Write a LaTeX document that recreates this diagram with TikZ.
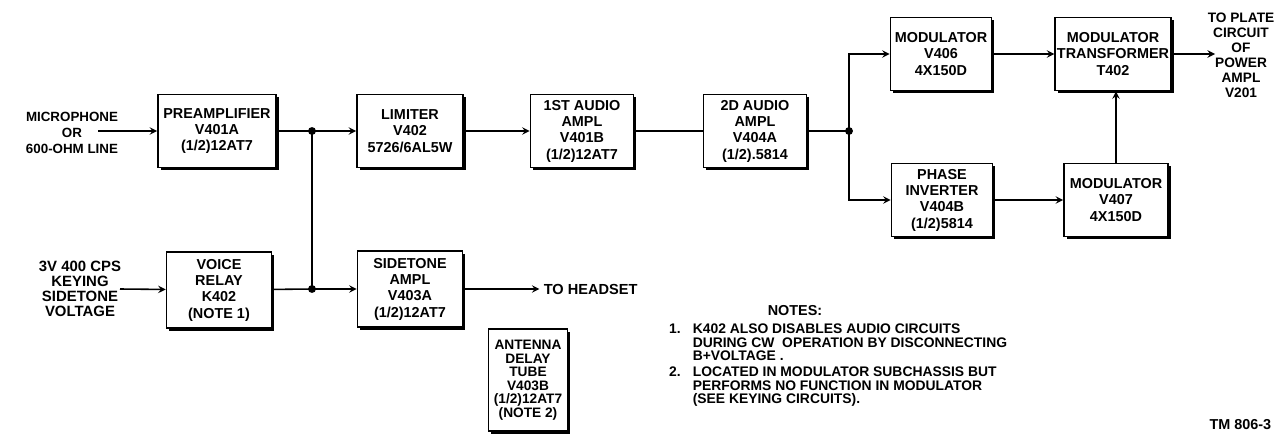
\documentclass[tikz,border=0pt]{standalone}
\usepackage{fontspec}
\setmainfont{Liberation Sans}
\usetikzlibrary{shadows}

\tikzset{
  blk/.style={draw, fill=white, inner sep=1pt, align=center,
    minimum width=2.06cm, minimum height=1.46cm,
    font=\bfseries\fontsize{8.2}{9.3}\selectfont,
    drop shadow={shadow xshift=1.6pt, shadow yshift=-1.6pt, opacity=1, fill=black}},
  lbl/.style={align=center, inner sep=0pt, font=\bfseries\fontsize{7.6}{9.3}\selectfont},
  notetxt/.style={align=left, inner sep=0pt, font=\bfseries\fontsize{7.9}{7.8}\selectfont},
  dot/.style={circle, fill=black, inner sep=0pt, minimum size=4.5pt}
}

\begin{document}
\begin{tikzpicture}[>=stealth, x=0.02cm, y=-0.02cm, line width=0.9pt]
      \useasboundingbox (0,0) rectangle (1276,436);

      % audio chain
      \node[blk, minimum width=2.36cm] (pre) at (217,131) {PREAMPLIFIER\\V401A\\(1/2)12AT7};
      \node[blk, minimum width=2.12cm] (lim) at (410,131) {LIMITER\\V402\\5726/6AL5W};
      \node[blk] (aud1) at (582,131) {1ST AUDIO\\AMPL\\V401B\\(1/2)12AT7};
      \node[blk] (aud2) at (755,131) {2D AUDIO\\AMPL\\V404A\\(1/2).5814};
      \node[blk, minimum width=2.02cm] (mod6) at (941,54) {MODULATOR\\V406\\4X150D};
      \node[blk, minimum width=2.22cm] (xfmr) at (1113,54) {MODULATOR\\TRANSFORMER\\T402};
      \node[blk, minimum width=2.02cm] (phase) at (942,200) {PHASE\\INVERTER\\V404B\\(1/2)5814};
      \node[blk, minimum width=2.08cm] (mod7) at (1116,200) {MODULATOR\\V407\\4X150D};

      % keying side
      \node[blk, minimum width=2.1cm, minimum height=1.52cm] (relay) at (219,290) {VOICE\\RELAY\\K402\\(NOTE 1)};
      \node[blk, minimum width=2.1cm, minimum height=1.52cm] (side) at (410,289) {SIDETONE\\AMPL\\V403A\\(1/2)12AT7};
      \node[blk, minimum width=1.58cm, minimum height=2.04cm, font=\bfseries\fontsize{7.8}{7.7}\selectfont] (ant) at (528,380) {ANTENNA\\DELAY\\TUBE\\V403B\\(1/2)12AT7\\(NOTE 2)};

      % junctions
      \node[dot] (j1) at (312,131) {};
      \node[dot] (j2) at (312,289) {};
      \node[dot] (j3) at (849,131) {};

      % inputs and outputs
      \node[lbl] (mic) at (72,133) {MICROPHONE\\OR\\600-OHM LINE};
      \coordinate (micout) at (98,131);
      \node[lbl, font=\bfseries\fontsize{8.5}{8.6}\selectfont] (key) at (80,289) {3V 400 CPS\\KEYING\\SIDETONE\\VOLTAGE};
      \coordinate (keyout) at (120,289);
      \node[lbl, anchor=west, font=\bfseries\fontsize{8.3}{9}\selectfont] (head) at (543,289) {TO HEADSET};
      \node[lbl, font=\bfseries\fontsize{7.8}{8.5}\selectfont] (plate) at (1241,55) {TO PLATE\\CIRCUIT\\OF\\POWER\\AMPL\\V201};
      \coordinate (platein) at (1215,54);

      % connectors
      \draw[->] (micout) -- (pre);
      \draw (pre) -- (j1.center);
      \draw[->] (j1.center) -- (lim);
      \draw (j1.center) -- (j2.center);
      \draw[->] (keyout) -- (relay);
      \draw (relay) -- (j2.center);
      \draw[->] (j2.center) -- (side);
      \draw[->] (side) -- ([xshift=-2pt]head.west);
      \draw[->] (lim) -- (aud1);
      \draw (aud1) -- (aud2);
      \draw (aud2) -- (j3.center);
      \draw[->] (j3.center) |- (mod6);
      \draw[->] (j3.center) |- (phase);
      \draw[->] (mod6) -- (xfmr);
      \draw[->] (phase) -- (mod7);
      \draw[->] (mod7.north) -- (mod7.north |- xfmr.south);
      \draw[->] (xfmr) -- (platein);

      % notes
      \node[lbl, font=\bfseries\fontsize{8.2}{9}\selectfont] (notes) at (795,311) {NOTES:};
      \node[notetxt, anchor=north west] (n1) at (692,323) {K402 ALSO DISABLES AUDIO CIRCUITS\\DURING CW\ \ OPERATION BY DISCONNECTING\\B+VOLTAGE .};
      \node[notetxt, anchor=north east] at ([xshift=-6pt]n1.north west) {1.};
      \node[notetxt, anchor=north west] (n2) at (692,366) {LOCATED IN MODULATOR SUBCHASSIS BUT\\PERFORMS NO FUNCTION IN MODULATOR\\(SEE KEYING CIRCUITS).};
      \node[notetxt, anchor=north east] at ([xshift=-6pt]n2.north west) {2.};
      \node[notetxt, anchor=east, font=\bfseries\fontsize{8.2}{9}\selectfont] (tm) at (1272,425) {TM 806-3};
\end{tikzpicture}
\end{document}
